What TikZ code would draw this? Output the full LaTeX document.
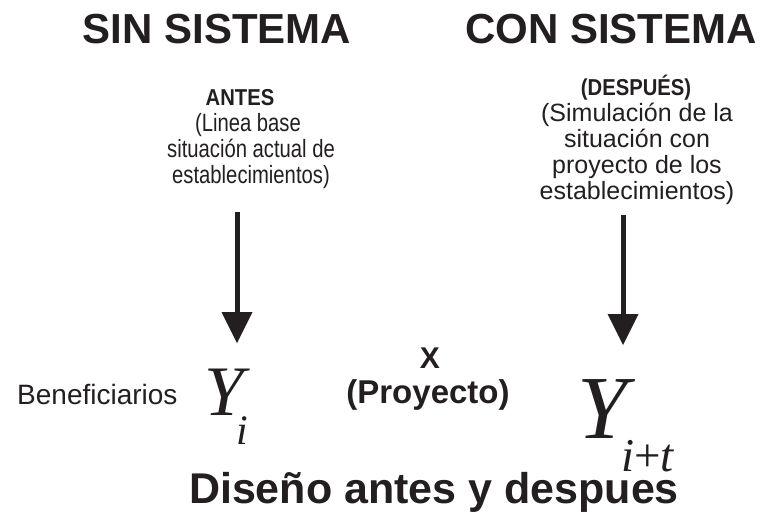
\documentclass[tikz,border=0pt]{standalone}
\usepackage{fontspec}
\setmainfont{Liberation Sans}
\newfontfamily\narrowfont[FakeStretch=0.81]{Liberation Sans}
\newfontfamily\subfont[FakeStretch=0.88]{Liberation Sans}
\newfontfamily\yfont{Liberation Serif}
\usetikzlibrary{arrows.meta}
\definecolor{ink}{RGB}{35,31,32}
\begin{document}
\begin{tikzpicture}[x=1pt,y=-1pt,
  txt/.style={inner sep=0pt,anchor=base,text=ink},
  title/.style={txt,font=\fontsize{42}{42}\selectfont\bfseries},
  sub/.style={txt,font=\subfont\fontsize{23}{23}\selectfont\bfseries},
  lbody/.style={txt,font=\narrowfont\fontsize{25}{25}\selectfont},
  rbody/.style={txt,font=\fontsize{25}{25}\selectfont},
  ybig/.style={txt,anchor=base west,font=\yfont\itshape},
  bigarrow/.style={draw=ink,line width=5pt,-{Triangle[length=31pt,width=31pt,line width=0pt]}}]
\useasboundingbox (0,0) rectangle (763,515);
\fill[white] (0,0) rectangle (763,515);
% titles
\node[title] (sin) at (217,43) {SIN SISTEMA};
\node[title] (con) at (611,43) {CON SISTEMA};
% left block
\node[sub] (antes) at (240,105) {ANTES};
\node[lbody] (l1) at (248,131) {(Linea base};
\node[lbody] (l2) at (251,157) {situación actual de};
\node[lbody] (l3) at (251,183) {establecimientos)};
% right block
\node[sub] (despues) at (636,95) {(DESPUÉS)};
\node[rbody] (r1) at (637,121) {(Simulación de la};
\node[rbody] (r2) at (637,147) {situación con};
\node[rbody] (r3) at (637,173) {proyecto de los};
\node[rbody] (r4) at (637,199) {establecimientos)};
% arrows
\coordinate (a1s) at (237,212);
\coordinate (a1e) at (237,343);
\coordinate (a2s) at (623,215);
\coordinate (a2e) at (623,345);
\draw[bigarrow] (a1s) -- (a1e);
\draw[bigarrow] (a2s) -- (a2e);
% bottom row
\node[txt,anchor=base west,font=\fontsize{28}{28}\selectfont] (benef) at (17,404) {Beneficiarios};
\node[ybig] (yi) at (204.3,415) {\fontsize{71}{71}\selectfont Y\kern-7.6pt\raisebox{-29pt}{\fontsize{42}{42}\selectfont i}};
\node[txt,font=\fontsize{30}{30}\selectfont\bfseries] (x) at (430,368) {X};
\node[txt,font=\fontsize{33}{33}\selectfont\bfseries] (proy) at (428,403) {(Proyecto)};
\node[ybig] (yit) at (577,438) {\fontsize{90}{90}\selectfont Y\kern-6pt\raisebox{-33pt}{\fontsize{47}{47}\selectfont i\upshape+\itshape t}};
% caption
\node[txt,font=\fontsize{43}{43}\selectfont\bfseries] (cap) at (434,503) {Diseño antes y despues};
\end{tikzpicture}
\end{document}
